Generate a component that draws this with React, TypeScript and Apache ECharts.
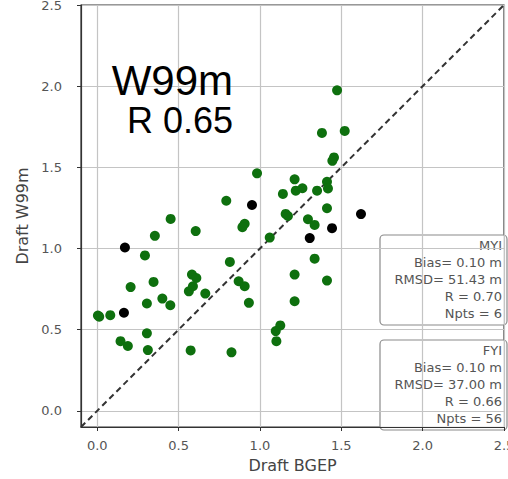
import React, { useEffect, useRef } from "react";
import * as echarts from "echarts";

const tickValues = [0, 0.5, 1.0, 1.5, 2.0, 2.5];
const axisMin = -0.1;
const axisMax = 2.5;

const fyiX = [0.793, 0.451, 0.605, 0.354, 0.293, 0.815, 0.582, 0.609, 0.346, 0.205, 0.563, 0.588, 0.664, 0.305, 0.40, 0.449, 0.004, 0.012, 0.08, 0.143, 0.188, 0.305, 0.311, 0.574, 0.825, 1.474, 1.381, 1.521, 1.455, 1.445, 0.982, 1.213, 1.141, 1.22, 1.261, 1.351, 1.412, 1.418, 1.412, 1.158, 1.172, 1.295, 1.336, 0.906, 0.892, 1.06, 1.336, 1.213, 1.412, 0.869, 0.906, 0.932, 1.213, 1.125, 1.097, 1.101];
const fyiY = [1.294, 1.182, 1.107, 1.078, 0.957, 0.917, 0.839, 0.818, 0.794, 0.762, 0.736, 0.767, 0.722, 0.661, 0.691, 0.650, 0.587, 0.580, 0.589, 0.429, 0.399, 0.477, 0.374, 0.372, 0.36, 1.974, 1.712, 1.724, 1.561, 1.54, 1.463, 1.426, 1.336, 1.356, 1.371, 1.356, 1.411, 1.37, 1.248, 1.213, 1.2, 1.18, 1.145, 1.152, 1.131, 1.067, 0.937, 0.839, 0.802, 0.798, 0.767, 0.665, 0.675, 0.526, 0.491, 0.429];

const myiX = [0.17, 0.164, 0.951, 1.621, 1.443, 1.306];
const myiY = [1.006, 0.604, 1.268, 1.212, 1.125, 1.064];

const oneToOne = [axisMin, axisMax];

const titleLines = ["W99m", " R 0.65"];
const myiStats = ["MYI", "Bias= 0.10 m", "RMSD= 51.43 m", "R = 0.70", "Npts = 6"];
const fyiStats = ["FYI", "Bias= 0.10 m", "RMSD= 37.00 m", "R = 0.66", "Npts = 56"];

const xName = "Draft BGEP";
const yName = "Draft W99m";

function statBox(lines: string[], top: number) {
  const children: any[] = [
    {
      type: "rect",
      shape: { x: 380, y: top, width: 127, height: 90, r: 4 },
      style: { fill: "rgba(255,255,255,0.85)", stroke: "#8a8a8a", lineWidth: 1.2 },
    },
  ];
  lines.forEach((t, i) => {
    children.push({
      type: "text",
      x: 502,
      y: top + 10 + i * 17,
      style: {
        text: t,
        align: "right",
        verticalAlign: "middle",
        font: "13px 'DejaVu Sans'",
        fill: "#555",
      },
    });
  });
  return { type: "group", children };
}

export default function App() {
  const ref = useRef<HTMLDivElement>(null);
  useEffect(() => {
    if (!ref.current) return;
    document.body.style.margin = "0";
    const chart = echarts.init(ref.current, undefined, { renderer: "svg" });
    const axisCommon = {
      type: "value",
      min: axisMin,
      max: axisMax,
      nameLocation: "middle",
      nameTextStyle: { fontFamily: "DejaVu Sans", fontSize: 16, color: "#444" },
      axisLine: { show: true, onZero: false, lineStyle: { color: "#333", width: 1.2 } },
      axisTick: { show: true, inside: false, length: 4, customValues: tickValues, lineStyle: { color: "#333" } },
      axisLabel: {
        customValues: tickValues,
        fontFamily: "DejaVu Sans",
        fontSize: 13,
        color: "#555",
        formatter: (v: number) => v.toFixed(1),
      },
      splitLine: { show: true, lineStyle: { color: "#c4c4c4", width: 1.2 } },
    };
    chart.setOption({
      animation: false,
      grid: {
        left: 81,
        right: 4,
        top: 5,
        bottom: 52,
        show: true,
        borderColor: "#333",
        borderWidth: 1.2,
        backgroundColor: "transparent",
        outerBoundsMode: "none",
        containLabel: false,
      },
      xAxis: { ...axisCommon, name: xName, nameGap: 30, axisLabel: { ...axisCommon.axisLabel, margin: 12 } },
      yAxis: { ...axisCommon, name: yName, nameGap: 48, axisLabel: { ...axisCommon.axisLabel, margin: 19 } },
      series: [
        {
          type: "line",
          data: oneToOne.map((v) => [v, v]),
          showSymbol: false,
          symbol: "none",
          lineStyle: { color: "#333", width: 2, type: [6, 4] },
          z: 1,
        },
        {
          type: "scatter",
          data: fyiX.map((x, i) => [x, fyiY[i]]),
          symbolSize: 10,
          itemStyle: { color: "#0e700e", opacity: 1 },
          z: 3,
        },
        {
          type: "scatter",
          data: myiX.map((x, i) => [x, myiY[i]]),
          symbolSize: 10,
          itemStyle: { color: "#000", opacity: 1 },
          z: 4,
        },
      ],
      graphic: [
        {
          type: "text",
          x: 233,
          y: 59,
          style: { text: titleLines[0], align: "right", verticalAlign: "alphabetic", font: "42px 'Liberation Sans'", fill: "#000" },
          z: 10,
        },
        {
          type: "text",
          x: 233,
          y: 102,
          style: { text: titleLines[1], align: "right", verticalAlign: "alphabetic", font: "36px 'Liberation Sans'", fill: "#000" },
          z: 10,
        },
        { ...statBox(myiStats, 235), z: 10 },
        { ...statBox(fyiStats, 340), z: 10 },
      ],
    });
    return () => chart.dispose();
  }, []);
  return <div ref={ref} style={{ width: 508, height: 479 }} />;
}
